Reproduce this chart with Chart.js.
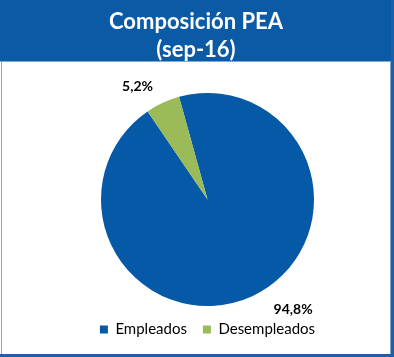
<!DOCTYPE html>
<html>
<head>
<meta charset="utf-8">
<script src="https://cdn.jsdelivr.net/npm/chart.js@4/dist/chart.umd.min.js"></script>
<style>
html,body{margin:0;padding:0;background:#fff;}
#wrap{width:394px;height:357px;position:relative;}
</style>
</head>
<body>
<div id="wrap"><canvas id="c" width="394" height="357"></canvas></div>
<script>
const titleLines = ["Composición PEA", "(sep-16)"];
const categories = ["Empleados", "Desempleados"];
const values = [94.8, 5.2];
const valueLabels = ["94,8%", "5,2%"];
const colors = ["#0659A6", "#9BBB59"];
const labelAngleShift = [-13, -7];
const labelDistance = [33, 26];

const framePlugin = {
  id: 'frame',
  beforeDraw(chart) {
    const ctx = chart.ctx, w = chart.width, h = chart.height;
    ctx.save();
    ctx.fillStyle = '#ffffff';
    ctx.fillRect(0, 0, w, h);
    ctx.fillStyle = '#0A5AA6';
    ctx.fillRect(0, 0, w, 61);
    ctx.fillStyle = '#7FA8D4';
    ctx.fillRect(0, 61, w, 1);
    ctx.fillRect(1, 62, 1, h - 62);
    ctx.fillRect(390, 62, 1, h - 62);
    ctx.fillStyle = '#1F5FA8';
    ctx.fillRect(391, 0, 3, h);
    ctx.fillRect(0, 354, w, 3);
    // title text
    ctx.fillStyle = '#ffffff';
    ctx.font = 'bold 22px Lato, "Open Sans", sans-serif';
    ctx.textAlign = 'center';
    ctx.textBaseline = 'middle';
    titleLines.forEach((t, i) => ctx.fillText(t, 196, 22 + i * 28));
    ctx.restore();
  }
};

const labelPlugin = {
  id: 'pctLabels',
  afterDatasetsDraw(chart) {
    const ctx = chart.ctx;
    const meta = chart.getDatasetMeta(0);
    ctx.save();
    ctx.font = 'bold 14px Lato, "Open Sans", sans-serif';
    ctx.fillStyle = '#000';
    ctx.textAlign = 'center';
    ctx.textBaseline = 'middle';
    meta.data.forEach((arc, i) => {
      const p = arc.getProps(['x','y','startAngle','endAngle','outerRadius'], true);
      const mid = (p.startAngle + p.endAngle) / 2 + labelAngleShift[i] * Math.PI / 180;
      const r = p.outerRadius + labelDistance[i];
      ctx.fillText(valueLabels[i], p.x + Math.cos(mid) * r, p.y + Math.sin(mid) * r);
    });
    ctx.restore();
  }
};

new Chart(document.getElementById('c'), {
  type: 'pie',
  data: {
    labels: categories,
    datasets: [{
      data: values,
      backgroundColor: colors,
      borderColor: '#ffffff',
      borderWidth: 0
    }]
  },
  options: {
    responsive: false,
    animation: false,
    rotation: -15.5,
    layout: { padding: { left: 21, right: 0, top: 93, bottom: 10 } },
    plugins: {
      title: { display: false },
      legend: {
        display: true,
        position: 'bottom',
        labels: {
          color: '#000',
          font: { family: 'Lato, "Open Sans", sans-serif', size: 15 },
          boxWidth: 8,
          boxHeight: 8,
          padding: 16
        }
      },
      tooltip: { enabled: false }
    }
  },
  plugins: [framePlugin, labelPlugin]
});
</script>
</body>
</html>
